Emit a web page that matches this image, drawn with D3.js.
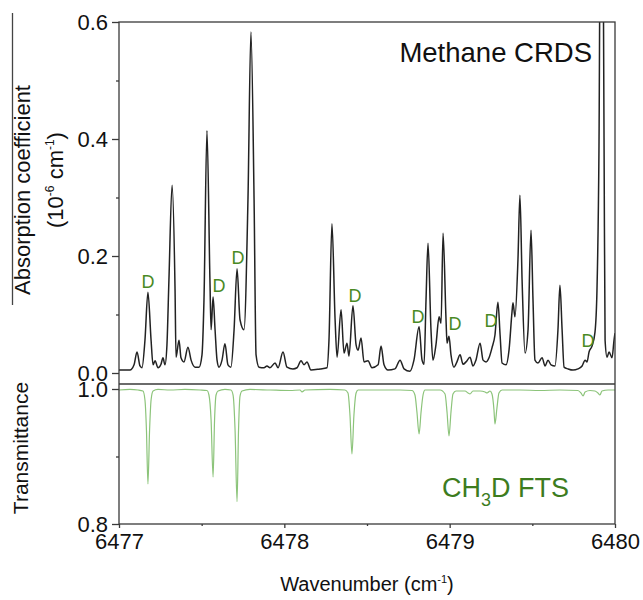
<!DOCTYPE html>
<html><head><meta charset="utf-8">
<script src="https://cdn.jsdelivr.net/npm/d3@7"></script>
<style>
body{margin:0;background:#fff}
svg{display:block}
text{font-family:"Liberation Sans",Arial,Helvetica,sans-serif}
</style>
</head><body><svg id="c" width="643" height="600"></svg>
<script>
// ---- data ----
const crdsWavenumber = [6477.000,6477.066,6477.091,6477.109,6477.127,6477.139,6477.157,6477.175,6477.194,6477.206,
6477.218,6477.236,6477.254,6477.266,6477.278,6477.290,6477.302,6477.321,6477.339,6477.345,
6477.363,6477.375,6477.393,6477.417,6477.436,6477.460,6477.484,6477.502,6477.514,6477.532,
6477.550,6477.557,6477.569,6477.581,6477.593,6477.605,6477.623,6477.641,6477.659,6477.677,
6477.696,6477.714,6477.732,6477.756,6477.780,6477.798,6477.817,6477.829,6477.847,6477.877,
6477.895,6477.913,6477.944,6477.962,6477.992,6478.016,6478.052,6478.077,6478.101,6478.119,
6478.137,6478.161,6478.216,6478.258,6478.270,6478.288,6478.307,6478.319,6478.343,6478.361,
6478.379,6478.391,6478.415,6478.434,6478.446,6478.464,6478.482,6478.506,6478.530,6478.567,
6478.585,6478.603,6478.627,6478.669,6478.700,6478.724,6478.760,6478.784,6478.815,6478.833,
6478.845,6478.857,6478.869,6478.887,6478.899,6478.917,6478.936,6478.948,6478.960,6478.978,
6478.984,6478.996,6479.008,6479.026,6479.044,6479.063,6479.081,6479.099,6479.123,6479.141,
6479.159,6479.184,6479.202,6479.220,6479.238,6479.256,6479.274,6479.292,6479.305,6479.317,
6479.341,6479.359,6479.377,6479.383,6479.395,6479.413,6479.425,6479.438,6479.456,6479.474,
6479.492,6479.504,6479.516,6479.534,6479.559,6479.577,6479.595,6479.613,6479.637,6479.655,
6479.667,6479.680,6479.692,6479.716,6479.746,6479.776,6479.801,6479.819,6479.831,6479.843,
6479.861,6479.879,6479.891,6479.903,6479.918,6479.934,6479.940,6479.952,6479.964,6479.982,
6479.994,6480.000];
const crdsAbsorption = [0.005,0.005,0.014,0.036,0.012,0.009,0.056,0.138,0.056,0.014,
0.021,0.009,0.015,0.026,0.014,0.048,0.159,0.321,0.142,0.027,
0.056,0.026,0.019,0.044,0.022,0.010,0.010,0.031,0.125,0.414,
0.159,0.074,0.130,0.074,0.022,0.010,0.022,0.050,0.014,0.010,
0.074,0.178,0.091,0.074,0.296,0.583,0.296,0.031,0.010,0.009,
0.012,0.009,0.017,0.009,0.036,0.010,0.007,0.009,0.021,0.014,
0.019,0.005,0.007,0.009,0.056,0.255,0.091,0.027,0.108,0.034,
0.051,0.029,0.115,0.048,0.039,0.060,0.019,0.021,0.009,0.014,
0.046,0.014,0.005,0.007,0.022,0.007,0.003,0.022,0.079,0.022,
0.015,0.125,0.222,0.074,0.022,0.048,0.096,0.085,0.239,0.091,
0.051,0.063,0.031,0.010,0.019,0.031,0.015,0.019,0.027,0.012,
0.022,0.051,0.022,0.019,0.026,0.043,0.065,0.121,0.065,0.017,
0.014,0.039,0.104,0.120,0.096,0.193,0.304,0.159,0.034,0.074,
0.244,0.125,0.022,0.017,0.026,0.012,0.022,0.014,0.012,0.074,
0.150,0.074,0.010,0.007,0.005,0.007,0.012,0.022,0.019,0.036,
0.046,0.070,0.142,0.381,1.200,0.381,0.056,0.027,0.036,0.026,
0.056,0.068];

const ftsWavenumber = [6477.000,6477.066,6477.115,6477.145,6477.157,6477.166,6477.175,6477.185,6477.194,6477.206,
6477.236,6477.309,6477.399,6477.490,6477.532,6477.544,6477.557,6477.569,6477.578,6477.587,
6477.599,6477.641,6477.677,6477.690,6477.702,6477.714,6477.723,6477.732,6477.744,6477.792,
6477.913,6478.034,6478.095,6478.107,6478.125,6478.276,6478.367,6478.385,6478.397,6478.409,
6478.421,6478.434,6478.446,6478.579,6478.700,6478.772,6478.790,6478.802,6478.815,6478.827,
6478.839,6478.851,6478.942,6478.972,6478.984,6478.996,6479.008,6479.020,6479.038,6479.093,
6479.111,6479.123,6479.141,6479.184,6479.214,6479.226,6479.244,6479.256,6479.268,6479.274,
6479.286,6479.298,6479.317,6479.425,6479.546,6479.667,6479.776,6479.794,6479.807,6479.819,
6479.849,6479.879,6479.897,6479.909,6479.921,6479.958,6480.000];
const ftsTransmittance = [0.9985,0.9993,0.9985,0.9970,0.9837,0.9393,0.8593,0.9393,0.9837,0.9970,
0.9993,0.9985,0.9993,0.9985,0.9978,0.9911,0.9541,0.8696,0.9541,0.9911,
0.9970,0.9993,0.9985,0.9911,0.9393,0.8330,0.9393,0.9896,0.9970,0.9993,
0.9985,0.9978,0.9985,0.9956,0.9985,0.9993,0.9985,0.9941,0.9615,0.9037,
0.9615,0.9941,0.9985,0.9985,0.9985,0.9978,0.9911,0.9659,0.9333,0.9659,
0.9911,0.9985,0.9985,0.9926,0.9659,0.9304,0.9659,0.9926,0.9970,0.9970,
0.9941,0.9926,0.9970,0.9970,0.9956,0.9941,0.9970,0.9926,0.9689,0.9481,
0.9719,0.9941,0.9985,0.9985,0.9978,0.9985,0.9978,0.9941,0.9896,0.9956,
0.9978,0.9970,0.9941,0.9911,0.9970,0.9985,0.9985];

const dLabelWavenumber = [6477.175,6477.605,6477.720,6478.427,6478.808,6479.032,6479.250,6479.837];
const dLabelAbsorption = [0.156,0.149,0.198,0.133,0.097,0.084,0.089,0.056];

const xTickValues = [6477,6478,6479,6480];
const xMinorTickValues = [6477.5,6478.5,6479.5];
const topTickValues = [0.0,0.2,0.4,0.6];
const topMinorTickValues = [0.1,0.3,0.5];
const bottomTickValues = [0.8,1.0];
const bottomMinorTickValues = [0.9];

// ---- layout ----
const L = 119, R = 615, T = 22, MID = 384, B = 524;
const svg = d3.select("#c");
const x = d3.scaleLinear([6477,6480],[L,R]);
const yTop = d3.scaleLinear([-0.0188,0.6],[MID,T]);
const yBot = d3.scaleLinear([0.8,1.0074],[B,MID]);

const defs = svg.append("defs");
defs.append("clipPath").attr("id","clipTop").append("rect")
  .attr("x",L).attr("y",T).attr("width",R-L).attr("height",MID-T);
defs.append("clipPath").attr("id","clipBot").append("rect")
  .attr("x",L).attr("y",MID).attr("width",R-L).attr("height",B-MID);

// spectra
const crds = crdsWavenumber.map((w,i)=>[w,crdsAbsorption[i]]);
const fts = ftsWavenumber.map((w,i)=>[w,ftsTransmittance[i]]);

svg.append("path").datum(fts)
  .attr("clip-path","url(#clipBot)")
  .attr("fill","none").attr("stroke","#8cc47a").attr("stroke-width",1.2)
  .attr("d", d3.line().x(d=>x(d[0])).y(d=>yBot(d[1])).curve(d3.curveMonotoneX));

svg.append("path").datum(crds)
  .attr("clip-path","url(#clipTop)")
  .attr("fill","none").attr("stroke","#222").attr("stroke-width",1.5)
  .attr("d", d3.line().x(d=>x(d[0])).y(d=>yTop(d[1])).curve(d3.curveMonotoneX));

// frame
const axisColor = "#3a3a3a";
svg.append("rect").attr("x",L).attr("y",T).attr("width",R-L).attr("height",B-T)
  .attr("fill","none").attr("stroke",axisColor).attr("stroke-width",1.3);
svg.append("line").attr("x1",L).attr("x2",R).attr("y1",MID).attr("y2",MID)
  .attr("stroke",axisColor).attr("stroke-width",1.6);

function styleAxis(g){
  g.select(".domain").remove();
  g.selectAll("line").attr("stroke",axisColor).attr("stroke-width",1.3);
  g.selectAll("text").attr("fill","#111").style("font-size","22px")
    .style("font-family",'"Liberation Sans",Arial,sans-serif');
}
const fmt = d3.format(".1f");
svg.append("g").attr("transform",`translate(${L},0)`)
  .call(d3.axisLeft(yTop).tickValues(topTickValues).tickSize(7).tickPadding(4).tickFormat(fmt)).call(styleAxis);
svg.append("g").attr("transform",`translate(${L},0)`)
  .call(d3.axisLeft(yTop).tickValues(topMinorTickValues).tickSize(3).tickFormat("")).call(styleAxis);
svg.append("g").attr("transform",`translate(${L},0)`)
  .call(d3.axisLeft(yBot).tickValues(bottomTickValues).tickSize(7).tickPadding(4).tickFormat(fmt)).call(styleAxis);
svg.append("g").attr("transform",`translate(${L},0)`)
  .call(d3.axisLeft(yBot).tickValues(bottomMinorTickValues).tickSize(3).tickFormat("")).call(styleAxis);
svg.append("g").attr("transform",`translate(0,${B})`)
  .call(d3.axisBottom(x).tickValues(xTickValues).tickSize(4).tickPadding(5).tickFormat(d3.format("d"))).call(styleAxis);
svg.append("g").attr("transform",`translate(0,${B})`)
  .call(d3.axisBottom(x).tickValues(xMinorTickValues).tickSize(2).tickFormat("")).call(styleAxis);

// D labels
svg.append("g").selectAll("text").data(dLabelWavenumber).join("text")
  .attr("x",d=>x(d)).attr("y",(d,i)=>yTop(dLabelAbsorption[i]))
  .attr("dy","0.36em").attr("text-anchor","middle")
  .attr("fill","#4a8a24").style("font-size","18px").text("D");

// panel titles
svg.append("text").attr("x",592).attr("y",62).attr("text-anchor","end")
  .attr("fill","#111").style("font-size","27.5px").text("Methane CRDS");
const ft = svg.append("text").attr("x",442).attr("y",497)
  .attr("fill","#3d7c1e").style("font-size","27px");
ft.append("tspan").text("CH");
ft.append("tspan").attr("dy",9).style("font-size","18px").text("3");
ft.append("tspan").attr("dy",-9).text("D FTS");

// axis titles
const yl = svg.append("g").attr("transform","translate(22,190) rotate(-90)");
yl.append("text").attr("text-anchor","middle").attr("dy","0.36em")
  .attr("fill","#111").style("font-size","22px").text("Absorption coefficient");
const yl2 = svg.append("g").attr("transform","translate(55,180) rotate(-90)")
  .append("text").attr("text-anchor","middle").attr("dy","0.36em")
  .attr("fill","#111").style("font-size","22px");
yl2.append("tspan").text("(10");
yl2.append("tspan").attr("dy",-9).style("font-size","12px").text("-6");
yl2.append("tspan").attr("dy",9).text(" cm");
yl2.append("tspan").attr("dy",-9).style("font-size","12px").text("-1");
yl2.append("tspan").attr("dy",9).text(")");

svg.append("line").attr("x1",12.5).attr("x2",12.5).attr("y1",13).attr("y2",305)
  .attr("stroke","#444").attr("stroke-width",1.3);

svg.append("g").attr("transform","translate(20,448) rotate(-90)")
  .append("text").attr("text-anchor","middle").attr("dy","0.36em")
  .attr("fill","#111").style("font-size","21px").text("Transmittance");

const xl = svg.append("text").attr("x",367).attr("y",591).attr("text-anchor","middle")
  .attr("fill","#111").style("font-size","20px");
xl.append("tspan").text("Wavenumber (cm");
xl.append("tspan").attr("dy",-8).style("font-size","11px").text("-1");
xl.append("tspan").attr("dy",8).text(")");
</script>
</body></html>
